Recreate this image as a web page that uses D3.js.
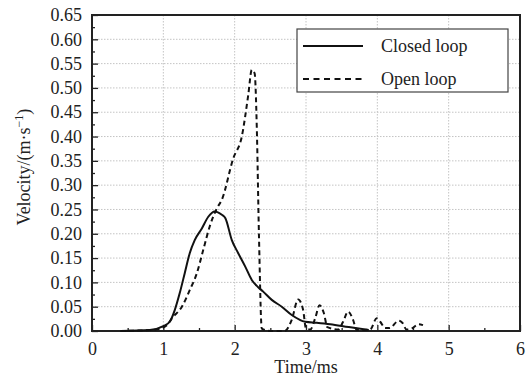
<!DOCTYPE html>
<html>
<head>
<meta charset="utf-8">
<script src="https://cdn.jsdelivr.net/npm/d3@7"></script>
<style>
    body { margin: 0; background: #fff; }
    text { font-family: "Liberation Serif", "Times New Roman", Times, serif; fill: #222; }
</style>
</head>
<body>
<svg id="chart"></svg>
<script>
// closed loop velocity (solid line)
var closedTime = [0.4, 0.81, 1.0, 1.09, 1.16, 1.23, 1.30, 1.37, 1.44, 1.54, 1.63, 1.72, 1.82, 1.87, 1.96, 2.05, 2.15, 2.24, 2.33, 2.40, 2.52, 2.66, 2.80, 2.99, 3.15, 3.34, 3.60, 3.88]
var closedVel  = [0.0, 0.002, 0.01, 0.019, 0.043, 0.078, 0.119, 0.16, 0.187, 0.211, 0.235, 0.246, 0.239, 0.232, 0.187, 0.16, 0.132, 0.105, 0.09, 0.081, 0.064, 0.05, 0.033, 0.019, 0.017, 0.014, 0.008, 0.002]

// open loop velocity (dashed line)
var openTime = [0.4, 0.9, 1.05, 1.12, 1.26, 1.37, 1.47, 1.56, 1.65, 1.75, 1.82, 1.98, 2.10, 2.19, 2.24, 2.28, 2.31, 2.34, 2.38, 2.50, 2.70, 2.80, 2.89, 2.96, 3.0, 3.06, 3.13, 3.19, 3.25, 3.30, 3.45, 3.52, 3.59, 3.66, 3.71, 3.90, 3.99, 4.04, 4.11, 4.17, 4.30, 4.35, 4.41, 4.48, 4.58, 4.64]
var openVel  = [0.0, 0.003, 0.012, 0.026, 0.05, 0.084, 0.119, 0.167, 0.215, 0.252, 0.27, 0.355, 0.40, 0.485, 0.537, 0.53, 0.42, 0.20, 0.005, 0.0, 0.0, 0.023, 0.065, 0.043, 0.005, 0.003, 0.027, 0.053, 0.037, 0.008, 0.003, 0.019, 0.04, 0.023, 0.002, 0.003, 0.026, 0.019, 0.006, 0.006, 0.021, 0.017, 0.003, 0.005, 0.014, 0.012]

var xTicks = [0, 1, 2, 3, 4, 5, 6]
var yTicks = d3.range(0, 14).map(function(i){ return i * 0.05 })
var legendNames = ["Closed loop", "Open loop"]

var serif = "'Liberation Serif', 'Times New Roman', Times, serif"

var W = 528, H = 380
var margin = {left: 92, top: 15, right: 8, bottom: 49}
var pw = W - margin.left - margin.right,
    ph = H - margin.top - margin.bottom

var svg = d3.select("svg#chart")
    .attr("width", W)
    .attr("height", H)

var g = svg.append("g")
    .attr("transform", "translate(" + margin.left + "," + margin.top + ")")

var x = d3.scaleLinear().domain([0, 6]).range([0, pw])
var y = d3.scaleLinear().domain([0, 0.65]).range([ph, 0])

// dotted grid
g.append("g").selectAll("line")
    .data(xTicks.slice(1, -1))
    .enter().append("line")
    .attr("x1", function(d){ return x(d) })
    .attr("x2", function(d){ return x(d) })
    .attr("y1", 0).attr("y2", ph)
    .attr("stroke", "#c4c4c4")
    .attr("stroke-dasharray", "1.5,1.5")

g.append("g").selectAll("line")
    .data(yTicks.slice(1))
    .enter().append("line")
    .attr("y1", function(d){ return y(d) })
    .attr("y2", function(d){ return y(d) })
    .attr("x1", 0).attr("x2", pw)
    .attr("stroke", "#c4c4c4")
    .attr("stroke-dasharray", "1.5,1.5")

// axes, ticks pointing inward
var xAxis = g.append("g")
    .attr("transform", "translate(0," + ph + ")")
    .call(d3.axisBottom(x).tickValues(xTicks).tickSizeInner(-6).tickSizeOuter(0).tickPadding(14).tickFormat(d3.format("d")))
var xMinor = g.append("g")
    .attr("transform", "translate(0," + ph + ")")
    .call(d3.axisBottom(x).tickValues(d3.range(0.5, 6, 1)).tickSize(-3).tickFormat(""))

var yAxis = g.append("g")
    .call(d3.axisLeft(y).tickValues(yTicks).tickSizeInner(-6).tickSizeOuter(0).tickPadding(10).tickFormat(d3.format(".2f")))
var yMinor = g.append("g")
    .call(d3.axisLeft(y).tickValues(d3.range(0.025, 0.65, 0.05)).tickSize(-3).tickFormat(""))

;[xAxis, xMinor, yAxis, yMinor].forEach(function(a){
    a.attr("font-family", serif)
    a.select(".domain").remove()
    a.selectAll("line").attr("stroke", "#222").attr("stroke-width", 1.3)
    a.selectAll("text").style("font-size", "18px").attr("fill", "#222")
        .style("font-family", serif)
})
xAxis.selectAll("text").attr("dy", "0.55em")

// frame
g.append("rect")
    .attr("width", pw).attr("height", ph)
    .attr("fill", "none")
    .attr("stroke", "#222")
    .attr("stroke-width", 2)

var line = d3.line()
    .x(function(d){ return x(d[0]) })
    .y(function(d){ return y(d[1]) })
    .curve(d3.curveMonotoneX)

g.append("path")
    .datum(d3.zip(closedTime, closedVel))
    .attr("d", line)
    .attr("fill", "none")
    .attr("stroke", "#111")
    .attr("stroke-width", 2)

g.append("path")
    .datum(d3.zip(openTime, openVel))
    .attr("d", line)
    .attr("fill", "none")
    .attr("stroke", "#111")
    .attr("stroke-width", 2)
    .attr("stroke-dasharray", "5,3.5")

// legend
var leg = g.append("g").attr("transform", "translate(" + (297 - margin.left) + "," + (29 - margin.top) + ")")
leg.append("rect")
    .attr("width", 211).attr("height", 63)
    .attr("fill", "#fff")
    .attr("stroke", "#444")
    .attr("stroke-width", 1.2)

var legItems = leg.selectAll("g.item")
    .data(legendNames)
    .enter().append("g")
    .attr("class", "item")
    .attr("transform", function(d, i){ return "translate(0," + (17 + i * 33) + ")" })

legItems.append("line")
    .attr("x1", 6).attr("x2", 66)
    .attr("stroke", "#111")
    .attr("stroke-width", 2)
    .attr("stroke-dasharray", function(d, i){ return i ? "6,4.5" : null })

legItems.append("text")
    .attr("x", 84)
    .attr("y", 6)
    .style("font-size", "18px")
    .style("font-family", serif)
    .text(function(d){ return d })

// axis titles
svg.append("text")
    .attr("x", margin.left + pw / 2)
    .attr("y", 373)
    .attr("text-anchor", "middle")
    .style("font-size", "18px")
    .style("font-family", serif)
    .text("Time/ms")

var yl = svg.append("text")
    .attr("transform", "translate(30,167) rotate(-90)")
    .attr("text-anchor", "middle")
    .style("font-size", "18px")
    .style("font-family", serif)
yl.append("tspan").text("Velocity/(m·s")
yl.append("tspan").attr("dy", -7).style("font-size", "12px").text("−1")
yl.append("tspan").attr("dy", 7).text(")")
</script>
</body>
</html>
